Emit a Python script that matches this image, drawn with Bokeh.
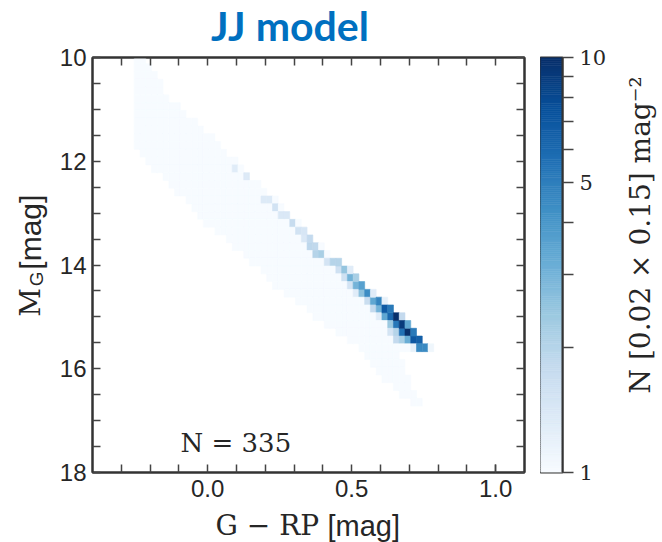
import numpy as np
from bokeh.plotting import figure
from bokeh.models import (Range1d, FixedTicker, PrintfTickFormatter, LinearAxis, Label,
                          LogColorMapper, ColumnDataSource)
from bokeh.core.properties import value
from bokeh.transform import transform
from bokeh.palettes import Blues256
from bokeh.layouts import row, column
from bokeh.embed import file_html
from bokeh.resources import INLINE

# ---------------- data ----------------
# bins: 0.02 mag in colour, 0.15 mag in M_G
band_mag = [10.045, 10.195, 10.345, 10.495, 10.645, 10.795, 10.945, 11.095, 11.245, 11.395,
            11.545, 11.695, 11.845, 11.995, 12.145, 12.295, 12.445, 12.595, 12.745, 12.895,
            13.045, 13.195, 13.345, 13.495, 13.645, 13.795, 13.945, 14.095, 14.245, 14.395,
            14.545, 14.695, 14.845, 14.995, 15.145, 15.295, 15.445, 15.595, 15.745, 15.895,
            16.045, 16.195, 16.345, 16.495, 16.645]
band_lo = [-0.245, -0.245, -0.245, -0.245, -0.245, -0.245, -0.245, -0.245, -0.245, -0.245,
           -0.245, -0.245, -0.225, -0.205, -0.185, -0.145, -0.125, -0.105, -0.065, -0.045,
           -0.025, -0.005, 0.035, 0.075, 0.095, 0.135, 0.155, 0.195, 0.215, 0.235,
           0.275, 0.315, 0.355, 0.375, 0.415, 0.455, 0.495, 0.535, 0.555, 0.575,
           0.595, 0.615, 0.655, 0.675, 0.715]
band_hi = [-0.225, -0.205, -0.185, -0.165, -0.165, -0.145, -0.105, -0.085, -0.045, -0.025,
           0.015, 0.035, 0.055, 0.095, 0.115, 0.135, 0.175, 0.195, 0.235, 0.255,
           0.275, 0.315, 0.335, 0.355, 0.395, 0.415, 0.435, 0.475, 0.495, 0.515,
           0.555, 0.575, 0.595, 0.635, 0.655, 0.695, 0.735, 0.755, 0.655, 0.675,
           0.675, 0.695, 0.695, 0.715, 0.735]
band_n = 1.0  # faint level of the broad band

ridge_color = [0.095, 0.135, 0.195, 0.215, 0.235, 0.255, 0.275, 0.295, 0.315, 0.335,
               0.335, 0.355, 0.355, 0.375, 0.375, 0.395, 0.415, 0.435, 0.455,
               0.455, 0.475, 0.495, 0.475, 0.495, 0.515, 0.495, 0.515, 0.535,
               0.515, 0.535, 0.555, 0.575, 0.555, 0.575, 0.595, 0.615,
               0.575, 0.595, 0.615, 0.635, 0.595, 0.615, 0.635, 0.655, 0.675,
               0.635, 0.655, 0.675, 0.695, 0.635, 0.655, 0.675, 0.695, 0.715,
               0.655, 0.675, 0.695, 0.715, 0.735, 0.715, 0.735, 0.755, 0.775]
ridge_mag = [12.145, 12.295, 12.745, 12.745, 12.895, 13.045, 13.045, 13.195, 13.345, 13.345,
             13.495, 13.495, 13.645, 13.645, 13.795, 13.795, 13.945, 13.945, 13.945,
             14.095, 14.095, 14.095, 14.245, 14.245, 14.245, 14.395, 14.395, 14.395,
             14.545, 14.545, 14.545, 14.545, 14.695, 14.695, 14.695, 14.695,
             14.845, 14.845, 14.845, 14.845, 14.995, 14.995, 14.995, 14.995, 14.995,
             15.145, 15.145, 15.145, 15.145, 15.295, 15.295, 15.295, 15.295, 15.295,
             15.445, 15.445, 15.445, 15.445, 15.445, 15.595, 15.595, 15.595, 15.595]
ridge_n = [1.3, 1.35, 1.35, 1.35, 1.55, 1.4, 1.4, 1.75, 1.55, 1.45,
           1.4, 1.8, 1.9, 1.85, 2.0, 2.2, 1.5, 2.0, 2.0,
           1.6, 2.5, 1.3, 1.6, 3.0, 2.2, 1.5, 3.0, 3.6,
           1.3, 2.6, 4.4, 1.3, 1.7, 3.4, 4.7, 1.2,
           1.8, 3.0, 6.8, 5.2, 1.3, 3.4, 6.0, 10.0, 1.8,
           2.4, 5.3, 9.0, 3.4, 1.5, 2.0, 5.6, 10.0, 5.2,
           1.8, 2.2, 3.2, 7.0, 6.5, 1.2, 4.5, 4.5, 1.1]

title_text = "JJ model"
n_label = "N = 335"
x_ticks = [0.0, 0.5, 1.0]
x_minor = [-0.3, -0.2, -0.1, 0.1, 0.2, 0.3, 0.4, 0.6, 0.7, 0.8, 0.9, 1.0]
y_ticks = [10, 12, 14, 16, 18]
y_minor = [10.5, 11, 11.5, 12.5, 13, 13.5, 14.5, 15, 15.5, 16.5, 17, 17.5]
cb_ticks = [1, 5, 10]
cb_minor = [2, 3, 4, 6, 7, 8, 9]

# ---------------- build cells ----------------
cells = {}
for m, lo, hi in zip(band_mag, band_lo, band_hi):
    nb = int(round((hi - lo) / 0.02)) + 1
    for k in range(nb):
        c = round(lo + 0.02 * k, 3)
        cells[(c, m)] = band_n
for c, m, n in zip(ridge_color, ridge_mag, ridge_n):
    cells[(round(c, 3), m)] = n

src = ColumnDataSource(dict(
    x=[k[0] for k in cells], y=[k[1] for k in cells], n=list(cells.values())))

palette = list(reversed(Blues256))
mapper = LogColorMapper(palette=palette, low=1, high=10)

DARK = "#333333"
TXT = "#262626"
SANS = "Liberation Sans"
SERIF = "DejaVu Serif"


def carrier(w, h):
    """A bare figure whose frame is its whole canvas, used only to hold texts."""
    f = figure(width=w, height=h, x_range=Range1d(0, w), y_range=Range1d(0, h),
               x_axis_location=None, y_axis_location=None,
               output_backend="svg", toolbar_location=None,
               min_border_left=0, min_border_right=0, min_border_top=0, min_border_bottom=0)
    f.xgrid.visible = False
    f.ygrid.visible = False
    f.outline_line_color = None
    f.background_fill_color = "white"
    f.border_fill_color = "white"
    return f


def txt(f, x, y, text, font, size, angle=0.0, align="center", style="normal", color=TXT):
    f.text(x=[x], y=[y], text=[text], text_font=value(font), text_font_size=value(size),
           angle=angle, text_align=align, text_baseline="middle",
           text_font_style=style, text_color=color)


# ---------------- main panel ----------------
p = figure(width=490, height=461, x_range=Range1d(-0.4, 1.1), y_range=Range1d(18, 10),
           output_backend="svg", toolbar_location=None,
           min_border_left=42, min_border_right=16, min_border_top=10, min_border_bottom=36)
p.background_fill_color = "white"
p.border_fill_color = "white"
p.xgrid.visible = False
p.ygrid.visible = False
p.outline_line_color = DARK
p.outline_line_width = 2
bx = p.xaxis[0]
ly = p.yaxis[0]

p.rect(x="x", y="y", width=0.02, height=0.15, source=src,
       fill_color=transform("n", mapper), line_color=transform("n", mapper), line_width=0.6)

bx.ticker = FixedTicker(ticks=x_ticks, minor_ticks=x_minor)
bx.formatter = PrintfTickFormatter(format="%.1f")
ly.ticker = FixedTicker(ticks=y_ticks, minor_ticks=y_minor)
ly.formatter = PrintfTickFormatter(format="%d")

# mirrored tick marks (no labels) on top and right
top = LinearAxis(ticker=FixedTicker(ticks=[], minor_ticks=sorted(x_ticks + x_minor)))
right = LinearAxis(ticker=FixedTicker(ticks=[], minor_ticks=sorted(y_ticks + y_minor)))
p.add_layout(top, "above")
p.add_layout(right, "right")

for ax in [bx, ly, top, right]:
    ax.axis_line_color = DARK
    ax.axis_line_width = 2
    ax.major_tick_in = 8
    ax.major_tick_out = 0
    ax.minor_tick_in = 8
    ax.minor_tick_out = 0
    ax.major_tick_line_color = "#444444"
    ax.minor_tick_line_color = "#444444"
    ax.major_tick_line_width = 1.5
    ax.minor_tick_line_width = 1.5
    ax.major_label_text_font = SANS
    ax.major_label_text_font_size = "24px"
    ax.major_label_text_color = TXT
for ax in [top, right]:
    ax.major_label_standoff = 0
bx.major_label_standoff = 7
ly.major_label_standoff = 6

p.add_layout(Label(x=88, y=15, x_units="screen", y_units="screen", text=n_label,
                   text_font=SERIF, text_font_size="26px", text_color=TXT))

# ---------------- colour bar ----------------
edges = np.logspace(0, 1, 201)
cb_src = ColumnDataSource(dict(bottom=edges[:-1], top=edges[1:],
                               v=np.sqrt(edges[:-1] * edges[1:])))
cb = figure(width=80, height=461, x_range=Range1d(0, 1), y_range=Range1d(1, 10),
            y_axis_type="log", y_axis_location="right",
            output_backend="svg", toolbar_location=None,
            min_border_left=0, min_border_right=58, min_border_top=10, min_border_bottom=36)
cb.xaxis.visible = False
cb.xgrid.visible = False
cb.ygrid.visible = False
cb.outline_line_color = DARK
cb.outline_line_width = 2
cb.background_fill_color = "white"
cb.border_fill_color = "white"
cb.quad(left=0, right=1, bottom="bottom", top="top", source=cb_src,
        fill_color=transform("v", mapper), line_color=transform("v", mapper), line_width=0.6)
ya = cb.yaxis[0]
ya.ticker = FixedTicker(ticks=cb_ticks, minor_ticks=cb_minor)
ya.formatter = PrintfTickFormatter(format="%d")
ya.axis_line_color = DARK
ya.axis_line_width = 2
ya.major_tick_in = 0
ya.major_tick_out = 11
ya.minor_tick_in = 0
ya.minor_tick_out = 11
ya.major_tick_line_color = "#444444"
ya.minor_tick_line_color = "#444444"
ya.major_tick_line_width = 1.5
ya.minor_tick_line_width = 1.5
ya.major_label_text_font = SERIF
ya.major_label_text_font_size = "21px"
ya.major_label_text_color = TXT
ya.major_label_standoff = 6

# ---------------- text strips (positions are text-box centres) ----------------
t_fig = carrier(662, 47)
txt(t_fig, 289.5, 22.0, title_text, "Lato", "41px", style="bold", color="#0070C0")

l_fig = carrier(50, 461)
txt(l_fig, 30.3, 189, "M", SERIF, "28px", angle=np.pi / 2)
txt(l_fig, 36.4, 215, "G", SANS, "19px", angle=np.pi / 2)
txt(l_fig, 29.6, 267, "[mag]", SANS, "30px", angle=np.pi / 2)

r_fig = carrier(42, 461)
txt(r_fig, 20.3, 264, "N [0.02 × 0.15] mag⁻²", SERIF, "28px", angle=np.pi / 2)

b_fig = carrier(662, 34)
txt(b_fig, 215, 17, "G − RP", SERIF, "28px", align="left")
txt(b_fig, 327, 17, "[mag]", SANS, "29px", align="left")

layout = column(t_fig, row(l_fig, p, cb, r_fig), b_fig)
open("out.html", "w").write(file_html(layout, INLINE))
